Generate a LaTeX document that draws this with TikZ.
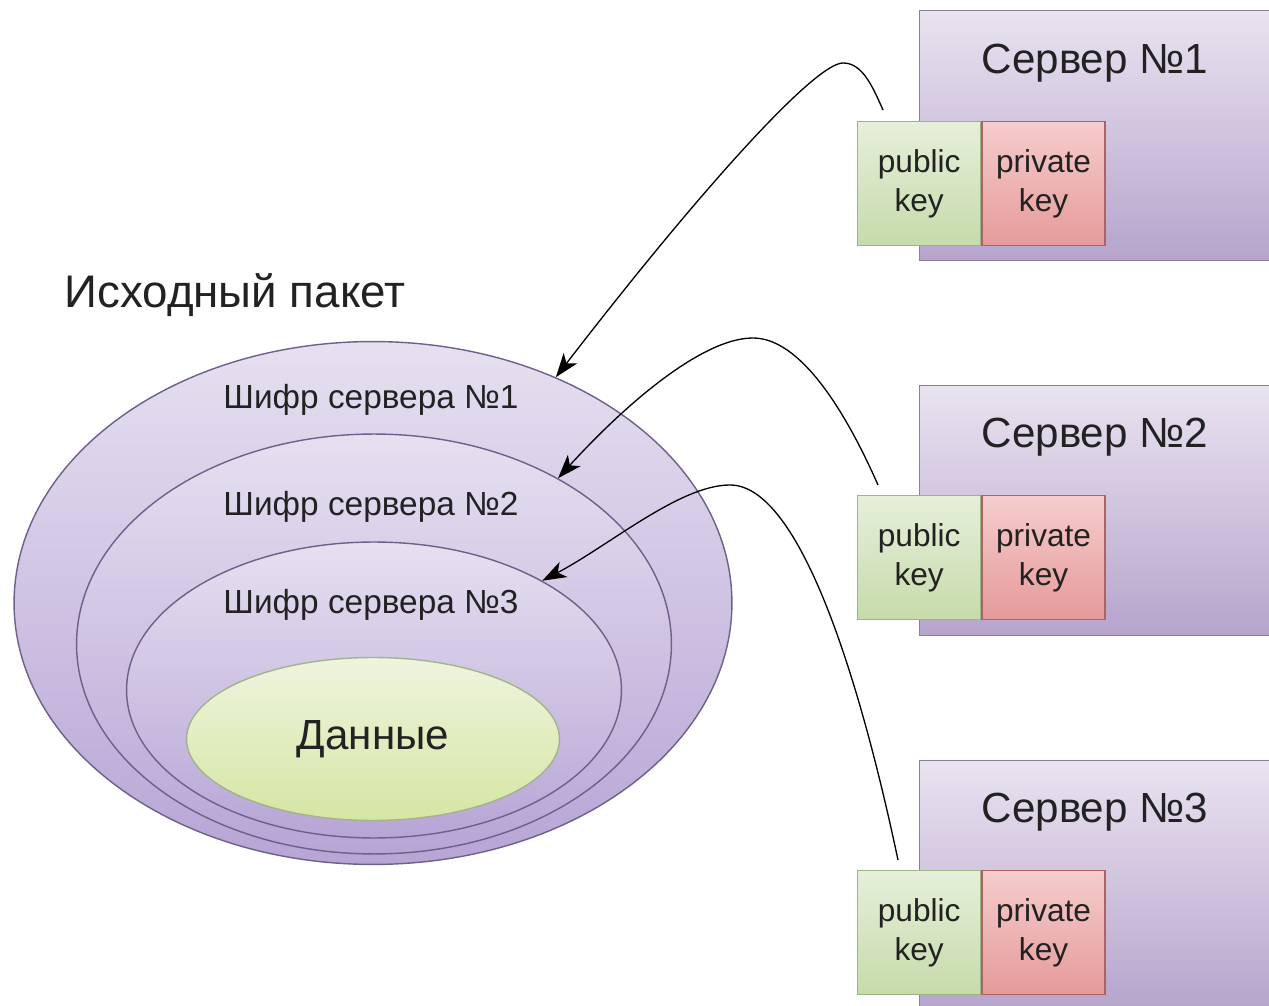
\documentclass[tikz,border=0pt]{standalone}
\usepackage{fontspec}
\setmainfont{Liberation Sans}
\usetikzlibrary{positioning}
\usetikzlibrary{shapes.geometric}
\usetikzlibrary{arrows.meta}

\definecolor{txt}{HTML}{222222}
\definecolor{srvline}{HTML}{8C7F9E}
\definecolor{srvtop}{HTML}{E9E3F0}
\definecolor{srvbot}{HTML}{B6A4CC}
\definecolor{publine}{HTML}{9DB585}
\definecolor{pubtop}{HTML}{E6EFDA}
\definecolor{pubbot}{HTML}{C6DBAA}
\definecolor{privline}{HTML}{B06262}
\definecolor{privtop}{HTML}{F6CCCC}
\definecolor{privbot}{HTML}{E59A9A}
\definecolor{layline}{HTML}{6E6088}
\definecolor{laytop}{HTML}{E6E0F0}
\definecolor{laybot}{HTML}{B7A5D6}
\definecolor{datline}{HTML}{A3B38C}
\definecolor{dattop}{HTML}{EEF4DE}
\definecolor{datbot}{HTML}{D5E6A3}

\tikzset{
  srvbox/.style={draw=srvline, top color=srvtop, bottom color=srvbot, line width=0.8pt,
    minimum width=7.62cm, minimum height=5cm, anchor=north west, inner sep=0pt},
  pubkey/.style={draw=publine, top color=pubtop, bottom color=pubbot, line width=0.8pt,
    minimum width=2.46cm, minimum height=2.48cm, inner sep=0pt, align=center,
    font=\fontsize{18}{22.5}\selectfont, text=txt},
  privkey/.style={pubkey, draw=privline, top color=privtop, bottom color=privbot},
  layer/.style={ellipse, draw=layline, top color=laytop, bottom color=laybot,
    line width=0.8pt, inner sep=0pt},
  cipher/.style={font=\fontsize{19}{22}\selectfont, text=txt},
  srvtitle/.style={font=\fontsize{24}{28}\selectfont, text=txt},
  keyarrow/.style={-{Stealth[length=0.48cm,width=0.34cm,inset=0.13cm]}, line width=0.75pt, black}
}

\begin{document}
\begin{tikzpicture}[x=0.02cm, y=-0.02cm]
\clip (0,0) rectangle (1269,1006);
\fill[white] (0,0) rectangle (1269,1006);

\node[srvbox] (srv1) at (919,10) {};
\node[srvbox] (srv2) at (919,385) {};
\node[srvbox] (srv3) at (919,760) {};
\node[srvtitle] (name1) at (1095,63) {Сервер №1};
\node[srvtitle] (name2) at (1095,437) {Сервер №2};
\node[srvtitle] (name3) at (1095,812) {Сервер №3};

\node[pubkey, anchor=north west] (pub1) at (857,121) {public\\key};
\node[privkey, right=0pt of pub1] (priv1) {private\\key};
\node[pubkey, anchor=north west] (pub2) at (857,495) {public\\key};
\node[privkey, right=0pt of pub2] (priv2) {private\\key};
\node[pubkey, anchor=north west] (pub3) at (857,870) {public\\key};
\node[privkey, right=0pt of pub3] (priv3) {private\\key};

\node[srvtitle, font=\fontsize{26}{30}\selectfont] (pkt) at (235,295) {Исходный пакет};

\node[layer, minimum width=14.36cm, minimum height=10.46cm] (lay1) at (373,603) {};
\node[layer, minimum width=11.9cm, minimum height=8.4cm] (lay2) at (374,644) {};
\node[layer, minimum width=9.9cm, minimum height=5.92cm] (lay3) at (374,690) {};
\node[ellipse, draw=datline, top color=dattop, bottom color=datbot, line width=0.8pt,
  minimum width=7.46cm, minimum height=3.26cm, inner sep=0pt, srvtitle] (data) at (373,739) {Данные};

\node[cipher] (ciph1) at (371,400) {Шифр сервера №1};
\node[cipher] (ciph2) at (371,507) {Шифр сервера №2};
\node[cipher] (ciph3) at (371,605) {Шифр сервера №3};

\coordinate (from1) at ([xshift=0.52cm, yshift=0.22cm]pub1.north west);
\coordinate (from2) at ([xshift=0.42cm, yshift=0.2cm]pub2.north west);
\coordinate (from3) at ([xshift=0.82cm, yshift=0.2cm]pub3.north west);

\draw[keyarrow] (from1) .. controls (872,85) and (862,63) .. (843,63)
  .. controls (815,63) and (700,190) .. (lay1.51);
\draw[keyarrow] (from2) .. controls (845,410) and (800,338) .. (753,338)
  .. controls (700,338) and (620,410) .. (lay2.42);
\draw[keyarrow] (from3) .. controls (860,680) and (800,485) .. (730,485)
  .. controls (680,485) and (610,545) .. (lay3.33);
\end{tikzpicture}
\end{document}
